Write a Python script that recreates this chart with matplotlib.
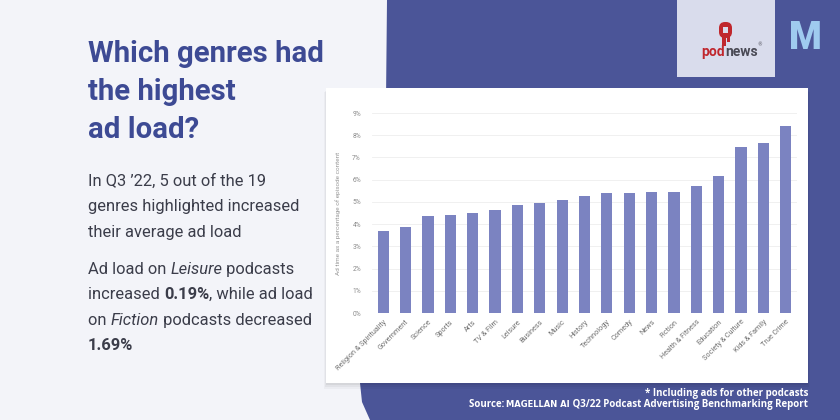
import matplotlib
matplotlib.use("Agg")
import matplotlib.pyplot as plt
from matplotlib.patches import Rectangle, Polygon, FancyBboxPatch
import numpy as np

genres = ["Religion & Spirituality", "Government", "Science", "Sports", "Arts",
          "TV & Film", "Leisure", "Business", "Music", "History", "Technology",
          "Comedy", "News", "Fiction", "Health & Fitness", "Education",
          "Society & Culture", "Kids & Family", "True Crime"]
ad_load = [3.70, 3.87, 4.36, 4.42, 4.48, 4.65, 4.87, 4.95, 5.07, 5.25, 5.38,
           5.41, 5.43, 5.44, 5.73, 6.15, 7.45, 7.66, 8.43]
y_ticks = [0, 1, 2, 3, 4, 5, 6, 7, 8, 9]
y_tick_labels = [f"{v}%" for v in y_ticks]

W, H = 840, 420
BG = "#f3f4f9"
BLUE = "#4b5598"
BAR = "#7b83c1"
TITLE = "#3d4a94"
BODY = "#3b3d4a"

fig = plt.figure(figsize=(W / 100, H / 100), dpi=100)
fig.patch.set_facecolor(BG)

bg = fig.add_axes([0, 0, 1, 1])
bg.set_xlim(0, W)
bg.set_ylim(H, 0)
bg.axis("off")
bg.set_zorder(0)

# blue background shape on the right
shape = [(387, 0), (386, 100), (382, 200), (374, 300), (364, 360), (360, 383),
         (362, 402), (370, 420), (W, H), (W, 0)]
bg.add_patch(Polygon(shape, closed=True, facecolor=BLUE, edgecolor="none"))

# white card with soft shadow
for i, a in enumerate([0.05, 0.04, 0.03]):
    bg.add_patch(Rectangle((326 - i, 89 + i + 1), 482 + 2 * i, 295 + i,
                           facecolor="#000000", alpha=a, edgecolor="none"))
bg.add_patch(Rectangle((326, 88), 482, 295, facecolor="white", edgecolor="none"))

# podnews logo box
bg.add_patch(Rectangle((677, 0), 98, 77, facecolor="#d9dcec", edgecolor="none"))
# podnews icon (simple mic-like drip)
bg.add_patch(FancyBboxPatch((719, 22), 13, 16, boxstyle="round,pad=0,rounding_size=6",
                            facecolor="#c0272d", edgecolor="none"))
bg.add_patch(Rectangle((722, 34), 4, 12, facecolor="#c0272d", edgecolor="none"))
bg.add_patch(Rectangle((727, 34), 3, 8, facecolor="#c0272d", edgecolor="none"))
bg.add_patch(Rectangle((723, 27), 5, 6, facecolor="#d9dcec", edgecolor="none"))
bg.text(725, 56, "pod", color="#c0272d", fontsize=10, fontweight="bold",
        family="Roboto", ha="right", va="baseline")
bg.text(725, 56, "news", color="#4a4a55", fontsize=10, fontweight="bold",
        family="Roboto", ha="left", va="baseline")
bg.text(757, 46, "®", color="#4a4a55", fontsize=3.5, ha="left", va="baseline")

# M logo
bg.text(805, 49, "M", color="#9fcbef", fontsize=27, fontweight="black",
        family="Roboto", ha="center", va="baseline")

# Title
for txt, yb in [("Which genres had", 62), ("the highest", 100), ("ad load?", 138)]:
    bg.text(88, yb, txt, color=TITLE, fontsize=21.2, fontweight="bold",
            family="Roboto", ha="left", va="baseline")

fig.canvas.draw()
renderer = fig.canvas.get_renderer()


def text_width(s, **kw):
    t1 = bg.text(0, 0, "x" + s + "x", **kw)
    t2 = bg.text(0, 0, "xx", **kw)
    w = t1.get_window_extent(renderer).width - t2.get_window_extent(renderer).width
    t1.remove()
    t2.remove()
    return w


def runs(x, y, parts, size=11.9):
    for s, style, weight in parts:
        kw = dict(fontsize=size, family="Roboto", fontstyle=style,
                  fontweight=weight, color=BODY)
        bg.text(x, y, s, ha="left", va="baseline", **kw)
        x += text_width(s, **kw)


body = [
    (186, [("In Q3 \u201922, 5 out of the 19", "normal", "normal")]),
    (211, [("genres highlighted increased", "normal", "normal")]),
    (237, [("their average ad load", "normal", "normal")]),
    (274, [("Ad load on ", "normal", "normal"), ("Leisure", "italic", "normal"),
           (" podcasts", "normal", "normal")]),
    (299, [("increased ", "normal", "normal"), ("0.19%", "normal", "bold"),
           (", while ad load", "normal", "normal")]),
    (325, [("on ", "normal", "normal"), ("Fiction", "italic", "normal"),
           (" podcasts decreased", "normal", "normal")]),
    (350, [("1.69%", "normal", "bold")]),
]
for yb, parts in body:
    runs(88, yb, parts)

# Footnotes
bg.text(808, 396, "* Including ads for other podcasts", color="white",
        fontsize=7, fontweight="bold", family="Open Sans", ha="right", va="baseline")
src_parts = [("Source: ", "Open Sans", "bold", 7),
             ("MAGELLAN AI", "DejaVu Sans", "bold", 6.0),
             (" Q3/22 Podcast Advertising Benchmarking Report", "Open Sans", "bold", 7)]
widths = [text_width(s, fontsize=fs, fontweight=wt, family=fam)
          for s, fam, wt, fs in src_parts]
x = 808 - sum(widths)
for (s, fam, wt, fs), w in zip(src_parts, widths):
    bg.text(x, 407, s, color="white", fontsize=fs,
            fontweight=wt, family=fam, ha="left", va="baseline")
    x += w

# Chart axes
left, right = 372 / W, 797 / W
top, bottom = 1 - 113 / H, 1 - 313 / H
ax = fig.add_axes([left, bottom, right - left, top - bottom])
ax.set_zorder(2)
ax.patch.set_alpha(0)
xpos = np.arange(len(genres))
ax.bar(xpos, ad_load, width=0.5, color=BAR, zorder=3)
ax.set_xlim(-0.5, len(genres) - 0.5)
ax.set_ylim(0, 9)
ax.set_yticks(y_ticks)
ax.set_yticklabels(y_tick_labels, fontsize=4.8, color="#8a8a8a", family="Roboto")
ax.set_xticks(xpos)
ax.set_xticklabels(genres, rotation=45, ha="right", rotation_mode="anchor",
                   fontsize=5.2, color="#707070", family="Roboto")
ax.tick_params(axis="both", length=0, pad=4)
ax.tick_params(axis="y", pad=8)
ax.grid(axis="y", color="#eeeeee", linewidth=0.6, zorder=0)
for s in ax.spines.values():
    s.set_visible(False)
ax.set_ylabel("Ad time as a percentage of episode content", fontsize=4.6,
              color="#9a9a9a", family="Roboto", labelpad=8)

fig.savefig("out.png", dpi=100, facecolor=BG)
